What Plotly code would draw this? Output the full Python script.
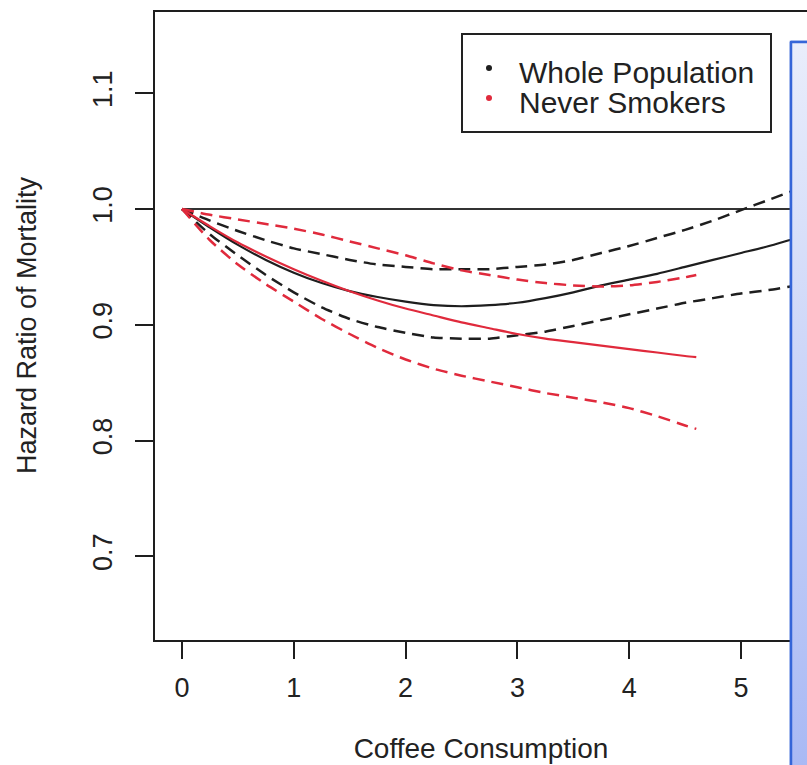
import plotly.graph_objects as go

# ---------------- data ----------------
x_whole = [0, 0.25, 0.5, 0.75, 1, 1.25, 1.5, 1.75, 2, 2.25, 2.5, 2.75, 3, 3.25, 3.5,
           3.75, 4, 4.25, 4.5, 4.75, 5, 5.25, 5.5, 5.75, 6]
hr_whole = [1.0, 0.984, 0.969, 0.956, 0.945, 0.936, 0.929, 0.924, 0.920, 0.917, 0.916,
            0.917, 0.919, 0.923, 0.928, 0.934, 0.939, 0.944, 0.950, 0.956, 0.962, 0.968,
            0.975, 0.981, 0.987]
hr_whole_hi = [1.0, 0.990, 0.981, 0.973, 0.966, 0.961, 0.956, 0.952, 0.950, 0.948, 0.948,
               0.948, 0.950, 0.952, 0.956, 0.962, 0.968, 0.975, 0.982, 0.990, 0.999, 1.008,
               1.017, 1.027, 1.037]
hr_whole_lo = [1.0, 0.978, 0.960, 0.943, 0.928, 0.915, 0.905, 0.898, 0.893, 0.889, 0.888,
               0.888, 0.891, 0.894, 0.899, 0.904, 0.909, 0.914, 0.919, 0.923, 0.927, 0.930,
               0.934, 0.937, 0.940]

x_never = [0, 0.25, 0.5, 0.75, 1, 1.25, 1.5, 1.75, 2, 2.25, 2.5, 2.75, 3, 3.25, 3.5,
           3.75, 4, 4.25, 4.5, 4.6]
hr_never = [1.0, 0.985, 0.971, 0.959, 0.948, 0.938, 0.929, 0.921, 0.914, 0.908, 0.902,
            0.897, 0.892, 0.888, 0.885, 0.882, 0.879, 0.876, 0.873, 0.872]
hr_never_hi = [1.0, 0.995, 0.991, 0.987, 0.983, 0.978, 0.972, 0.966, 0.960, 0.953, 0.947,
               0.943, 0.939, 0.936, 0.934, 0.933, 0.934, 0.937, 0.941, 0.943]
hr_never_lo = [1.0, 0.973, 0.952, 0.935, 0.920, 0.905, 0.892, 0.880, 0.870, 0.862, 0.856,
               0.851, 0.846, 0.841, 0.837, 0.833, 0.828, 0.821, 0.813, 0.810]

ref_x = [0, 6]
ref_y = [1.0, 1.0]

x_ticks = [0, 1, 2, 3, 4, 5]
y_ticks = [0.7, 0.8, 0.9, 1.0, 1.1]
y_tick_labels = ["0.7", "0.8", "0.9", "1.0", "1.1"]
legend_names = ["Whole Population", "Never Smokers"]

# ---------------- styles / geometry ----------------
W, H = 807, 765
BLACK = "#1e1e1e"
RED = "#e02a3c"
FONT = "Liberation Sans, Arial, sans-serif"
TXT = "#222222"
DASH = "12px,7px"

x0_px, x_unit = 182.0, 111.8          # px of x=0, px per unit
y1_px, y_unit = 209.0, 1157.5         # px of HR=1.0, px per unit
left_px, top_px, bottom_px = 155.0, 11.5, 639.5

def py(v):                             # pixel row -> overlay y value
    return H - v

fig = go.Figure()

fig.add_trace(go.Scatter(x=ref_x, y=ref_y, mode="lines",
                         line=dict(color="#333333", width=2.2), showlegend=False))

for ys, dash, w in [(hr_whole_hi, DASH, 2.5), (hr_whole_lo, DASH, 2.5), (hr_whole, "solid", 2.2)]:
    fig.add_trace(go.Scatter(x=x_whole, y=ys, mode="lines",
                             line=dict(color=BLACK, width=w, dash=dash, shape="spline", smoothing=0.6),
                             showlegend=False))
for ys, dash, w in [(hr_never_hi, DASH, 2.5), (hr_never_lo, DASH, 2.5), (hr_never, "solid", 2.2)]:
    fig.add_trace(go.Scatter(x=x_never, y=ys, mode="lines",
                             line=dict(color=RED, width=w, dash=dash, shape="spline", smoothing=0.6),
                             showlegend=False))

# legend box (drawn in pixel overlay coordinates)
leg_rows = [72, 102]
fig.add_trace(go.Scatter(x=[489, 489], y=[py(r - 4) for r in leg_rows], xaxis="x2", yaxis="y2",
                         mode="markers", showlegend=False, hoverinfo="skip",
                         marker=dict(color=[BLACK, RED], size=6)))
for name, r in zip(legend_names, leg_rows):
    fig.add_annotation(x=517, y=py(r), xref="x2", yref="y2", text=name, showarrow=False,
                       xanchor="left", yanchor="middle", font=dict(size=30, color=TXT))
fig.add_shape(type="rect", xref="x2", yref="y2", x0=462, x1=771, y0=py(132), y1=py(34),
              line=dict(color="#222222", width=2), fillcolor="rgba(255,255,255,0)", layer="above")

# decorative blue panel overlapping the right side
fig.add_shape(type="rect", xref="x2", yref="y2", x0=791, x1=830, y0=-20, y1=py(42),
              line=dict(color="#3565d8", width=2.5), fillcolor="#c3cef7", layer="below")
panel_x = [791, 840, 840, 791, 791]
panel_y = [py(42), py(42), -20, -20, py(42)]
fig.add_trace(go.Scatter(x=panel_x, y=panel_y, xaxis="x2", yaxis="y2", mode="lines",
                         fill="toself", showlegend=False, hoverinfo="skip",
                         line=dict(color="#3565d8", width=2.5),
                         fillgradient=dict(type="vertical", start=0, stop=py(42),
                                           colorscale=[[0, "#a9b9f4"], [1, "#e9edfb"]])))

fig.update_layout(
    width=W, height=H,
    margin=dict(l=0, r=0, t=0, b=0),
    paper_bgcolor="white", plot_bgcolor="rgba(0,0,0,0)",
    font=dict(family=FONT, color=TXT, size=27),
    showlegend=False,
    xaxis=dict(domain=[left_px / W, 1],
               range=[(left_px - x0_px) / x_unit, (W - x0_px) / x_unit],
               tickvals=x_ticks, ticks="outside", ticklen=17, tickwidth=2, tickcolor=BLACK,
               showline=True, linecolor=BLACK, linewidth=2, mirror=True,
               showgrid=False, zeroline=False, tickfont=dict(size=27),
               ticklabelstandoff=6,
               title=dict(text="Coffee Consumption", font=dict(size=28), standoff=36)),
    yaxis=dict(domain=[(H - bottom_px) / H, (H - top_px) / H],
               range=[1 - (bottom_px - y1_px) / y_unit, 1 + (y1_px - top_px) / y_unit],
               tickvals=y_ticks, ticktext=y_tick_labels, tickangle=-90,
               ticks="outside", ticklen=18, tickwidth=2, tickcolor=BLACK,
               showline=True, linecolor=BLACK, linewidth=2, mirror=False,
               showgrid=False, zeroline=False, tickfont=dict(size=27),
               ticklabelstandoff=12,
               title=dict(text="Hazard Ratio of Mortality", font=dict(size=27), standoff=44)),
    xaxis2=dict(domain=[0, 1], range=[0, W], visible=False, fixedrange=True),
    yaxis2=dict(domain=[0, 1], range=[0, H], visible=False, fixedrange=True),
)

fig.write_html(
    "out.html",
    config={"displayModeBar": False},
    post_script="document.body.style.margin='0';document.documentElement.style.overflow='hidden';",
)
